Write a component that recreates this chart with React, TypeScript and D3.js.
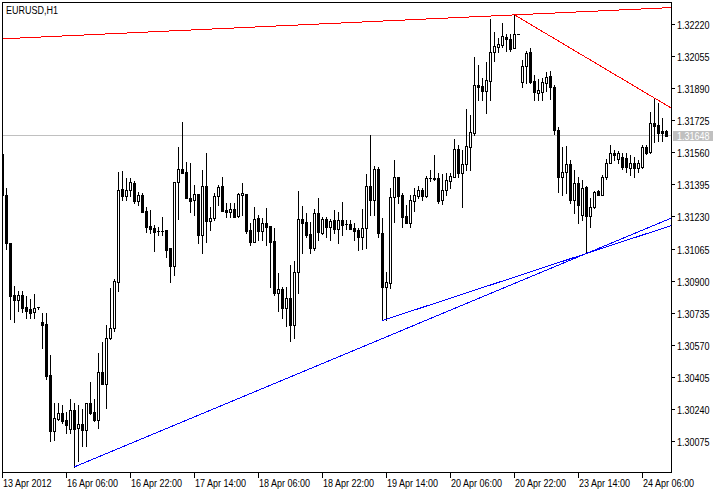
import React from 'react';
import * as d3 from 'd3';

const symbolLabel = 'EURUSD,H1';

const opens = [
  1.31555, 1.31344, 1.31097, 1.30829, 1.30808, 1.30829, 1.30767, 1.30757, 1.30746, 1.30767,
  1.30690, 1.30684, 1.30422, 1.30133, 1.30195, 1.30226, 1.30190, 1.30143, 1.30241, 1.30149,
  1.30169, 1.30138, 1.30277, 1.30231, 1.30190, 1.30437, 1.30375, 1.30612, 1.30659, 1.30896,
  1.31375, 1.31339, 1.31370, 1.31406, 1.31313, 1.31344, 1.31262, 1.31184, 1.31174, 1.31158,
  1.31158, 1.31164, 1.31071, 1.30978, 1.31411, 1.31478, 1.31462, 1.31329, 1.31318, 1.31349,
  1.31138, 1.31390, 1.31210, 1.31225, 1.31339, 1.31390, 1.31267, 1.31256, 1.31272, 1.31236,
  1.31344, 1.31349, 1.31164, 1.31102, 1.31225, 1.31158, 1.31200, 1.31184, 1.31107, 1.30844,
  1.30860, 1.30762, 1.30818, 1.30679, 1.30947, 1.31220, 1.31205, 1.31143, 1.31071, 1.31251,
  1.31148, 1.31220, 1.31179, 1.31215, 1.31169, 1.31215, 1.31195, 1.31195, 1.31174, 1.31164,
  1.31128, 1.31174, 1.31390, 1.31318, 1.31478, 1.31148, 1.30870, 1.30891, 1.31334, 1.31437,
  1.31344, 1.31236, 1.31200, 1.31313, 1.31339, 1.31370, 1.31339, 1.31432, 1.31432, 1.31432,
  1.31318, 1.31370, 1.31416, 1.31437, 1.31581, 1.31457, 1.31504, 1.31591, 1.31663, 1.31911,
  1.31906, 1.31880, 1.31931, 1.32081, 1.32107, 1.32117, 1.32158, 1.32148, 1.32101, 1.32174,
  1.31926, 1.32009, 1.32081, 1.31931, 1.31870, 1.31875, 1.31921, 1.31957, 1.31900, 1.31679,
  1.31437, 1.31462, 1.31504, 1.31318, 1.31406, 1.31241, 1.31385, 1.31236, 1.31282, 1.31365,
  1.31344, 1.31437, 1.31509, 1.31560, 1.31529, 1.31540, 1.31535, 1.31483, 1.31509, 1.31483,
  1.31488, 1.31591, 1.31566, 1.31715, 1.31705, 1.31674, 1.31674,
];

const highs = [
  1.31555, 1.31380, 1.31097, 1.30880, 1.30854, 1.30854, 1.30824, 1.30813, 1.30834, 1.30767,
  1.30736, 1.30741, 1.30525, 1.30277, 1.30277, 1.30267, 1.30231, 1.30298, 1.30277, 1.30267,
  1.30246, 1.30277, 1.30386, 1.30298, 1.30535, 1.30587, 1.30679, 1.30865, 1.30916, 1.31462,
  1.31468, 1.31432, 1.31432, 1.31416, 1.31359, 1.31354, 1.31282, 1.31267, 1.31189, 1.31179,
  1.31231, 1.31164, 1.31071, 1.31411, 1.31591, 1.31720, 1.31514, 1.31509, 1.31396, 1.31349,
  1.31473, 1.31560, 1.31282, 1.31354, 1.31396, 1.31437, 1.31303, 1.31303, 1.31303, 1.31354,
  1.31406, 1.31349, 1.31200, 1.31282, 1.31241, 1.31225, 1.31277, 1.31184, 1.31174, 1.30942,
  1.30870, 1.30870, 1.30988, 1.31004, 1.31365, 1.31287, 1.31251, 1.31205, 1.31272, 1.31329,
  1.31231, 1.31231, 1.31220, 1.31267, 1.31256, 1.31308, 1.31215, 1.31215, 1.31200, 1.31174,
  1.31272, 1.31452, 1.31653, 1.31493, 1.31488, 1.31225, 1.30947, 1.31380, 1.31524, 1.31437,
  1.31354, 1.31292, 1.31344, 1.31380, 1.31390, 1.31380, 1.31442, 1.31473, 1.31550, 1.31457,
  1.31452, 1.31457, 1.31457, 1.31633, 1.31602, 1.31576, 1.31787, 1.31756, 1.32055, 1.32014,
  1.31947, 1.32029, 1.32251, 1.32184, 1.32153, 1.32230, 1.32174, 1.32174, 1.32272, 1.32174,
  1.32040, 1.32086, 1.32101, 1.31962, 1.31942, 1.31947, 1.31978, 1.31983, 1.31911, 1.31694,
  1.31591, 1.31596, 1.31524, 1.31473, 1.31437, 1.31421, 1.31390, 1.31329, 1.31365, 1.31370,
  1.31447, 1.31529, 1.31602, 1.31576, 1.31571, 1.31560, 1.31560, 1.31550, 1.31540, 1.31524,
  1.31602, 1.31602, 1.31772, 1.31844, 1.31818, 1.31741, 1.31679,
];

const lows = [
  1.31339, 1.31066, 1.30710, 1.30690, 1.30751, 1.30746, 1.30715, 1.30715, 1.30715, 1.30757,
  1.30561, 1.30401, 1.30082, 1.30087, 1.30190, 1.30174, 1.30123, 1.30123, 1.29947, 1.29978,
  1.30056, 1.30056, 1.30221, 1.30185, 1.30149, 1.30375, 1.30252, 1.30607, 1.30648, 1.30854,
  1.31318, 1.31318, 1.31339, 1.31303, 1.31292, 1.31256, 1.31153, 1.31148, 1.31055, 1.31138,
  1.31138, 1.31025, 1.30896, 1.30932, 1.31220, 1.31457, 1.31329, 1.31256, 1.31241, 1.31097,
  1.31045, 1.31102, 1.31164, 1.31215, 1.31292, 1.31262, 1.31231, 1.31231, 1.31231, 1.31231,
  1.31241, 1.31148, 1.31086, 1.31102, 1.31112, 1.31112, 1.31086, 1.30870, 1.30829, 1.30751,
  1.30715, 1.30674, 1.30597, 1.30612, 1.30839, 1.31045, 1.31128, 1.31045, 1.31061, 1.31112,
  1.31143, 1.31128, 1.31112, 1.31148, 1.31097, 1.31138, 1.31169, 1.31169, 1.31112, 1.31061,
  1.31066, 1.31071, 1.31241, 1.31241, 1.31128, 1.30700, 1.30705, 1.30865, 1.31205, 1.31303,
  1.31179, 1.31200, 1.31179, 1.31262, 1.31329, 1.31318, 1.31334, 1.31416, 1.31421, 1.31303,
  1.31298, 1.31344, 1.31380, 1.31437, 1.31437, 1.31282, 1.31473, 1.31473, 1.31653, 1.31834,
  1.31834, 1.31767, 1.31834, 1.32034, 1.32081, 1.32107, 1.32086, 1.32086, 1.32101, 1.32174,
  1.31900, 1.31921, 1.31921, 1.31834, 1.31834, 1.31834, 1.31880, 1.31839, 1.31658, 1.31359,
  1.31344, 1.31354, 1.31303, 1.31251, 1.31200, 1.31215, 1.31045, 1.31179, 1.31277, 1.31344,
  1.31344, 1.31426, 1.31509, 1.31524, 1.31509, 1.31478, 1.31462, 1.31447, 1.31437, 1.31462,
  1.31483, 1.31555, 1.31560, 1.31617, 1.31622, 1.31622, 1.31648,
];

const closes = [
  1.31344, 1.31097, 1.30824, 1.30808, 1.30829, 1.30762, 1.30751, 1.30741, 1.30762, 1.30767,
  1.30679, 1.30416, 1.30133, 1.30200, 1.30226, 1.30185, 1.30164, 1.30241, 1.30143, 1.30169,
  1.30138, 1.30277, 1.30226, 1.30190, 1.30437, 1.30375, 1.30612, 1.30659, 1.30901, 1.31370,
  1.31339, 1.31370, 1.31411, 1.31313, 1.31344, 1.31256, 1.31179, 1.31169, 1.31153, 1.31158,
  1.31158, 1.31061, 1.30978, 1.31411, 1.31478, 1.31457, 1.31329, 1.31313, 1.31349, 1.31138,
  1.31390, 1.31210, 1.31225, 1.31339, 1.31385, 1.31262, 1.31256, 1.31272, 1.31231, 1.31349,
  1.31354, 1.31158, 1.31102, 1.31220, 1.31158, 1.31200, 1.31179, 1.31102, 1.30844, 1.30860,
  1.30762, 1.30818, 1.30679, 1.30947, 1.31220, 1.31200, 1.31138, 1.31071, 1.31251, 1.31153,
  1.31220, 1.31179, 1.31210, 1.31169, 1.31215, 1.31189, 1.31195, 1.31169, 1.31158, 1.31128,
  1.31174, 1.31390, 1.31318, 1.31478, 1.31148, 1.30870, 1.30896, 1.31334, 1.31437, 1.31339,
  1.31231, 1.31200, 1.31318, 1.31344, 1.31370, 1.31339, 1.31432, 1.31432, 1.31426, 1.31313,
  1.31370, 1.31421, 1.31442, 1.31581, 1.31457, 1.31504, 1.31596, 1.31669, 1.31911, 1.31900,
  1.31880, 1.31937, 1.32081, 1.32112, 1.32122, 1.32163, 1.32148, 1.32096, 1.32174, 1.32174,
  1.32009, 1.32076, 1.31926, 1.31875, 1.31885, 1.31926, 1.31952, 1.31900, 1.31679, 1.31437,
  1.31462, 1.31504, 1.31318, 1.31406, 1.31292, 1.31380, 1.31236, 1.31282, 1.31359, 1.31344,
  1.31437, 1.31509, 1.31560, 1.31550, 1.31560, 1.31488, 1.31488, 1.31509, 1.31483, 1.31509,
  1.31591, 1.31560, 1.31715, 1.31700, 1.31663, 1.31663, 1.31648,
];

const priceTicks = [
  1.3222, 1.32055, 1.3189, 1.31725, 1.3156, 1.31395, 1.3123,
  1.31065, 1.309, 1.30735, 1.3057, 1.30405, 1.3024, 1.30075,
];

const timeTickBars = [0, 16, 32, 48, 64, 80, 96, 112, 128, 144, 160];
const timeTickLabels = [
  '13 Apr 2012', '16 Apr 06:00', '16 Apr 22:00', '17 Apr 14:00', '18 Apr 06:00',
  '18 Apr 22:00', '19 Apr 14:00', '20 Apr 06:00', '20 Apr 22:00', '23 Apr 14:00', '24 Apr 06:00',
];

const currentPrice = 1.31648;

// trend lines: [barIndex, price] anchors (rays extended to the right)
const resistanceLong: [number, number][] = [[0, 1.32149], [128, 1.32272]];
const resistanceShort: [number, number][] = [[128, 1.32272], [163, 1.31844]];
const supportLong: [number, number][] = [[18, 1.29947], [146, 1.31045]];
const supportShort: [number, number][] = [[95, 1.307], [146, 1.31045]];

const W = 713;
const H = 489;
const LEFT = 2;
const TOP = 2;
const RIGHT = 671;
const BOTTOM = 472;
const FONT = "'Liberation Sans', Arial, sans-serif";
const SX = 0.82;

function Label(props: { x: number; y: number; fill?: string; children: React.ReactNode }) {
  return (
    <text transform={`translate(${props.x},${props.y}) scale(${SX},1)`} fontSize={11}
      fill={props.fill || '#000'} fontFamily={FONT}>
      {props.children}
    </text>
  );
}

export default function App() {
  const lastBarSlot = (RIGHT - LEFT) / 4;
  const x = d3.scaleLinear().domain([0, lastBarSlot]).range([LEFT, RIGHT]);
  const y = d3.scaleLinear().domain([1.30075, 1.3222]).range([442, 25]);
  const ry = (p: number) => Math.round(y(p));

  const candles = opens.map((o, i) => {
    const h = highs[i];
    const l = lows[i];
    const c = closes[i];
    const cx = Math.round(x(i));
    const yo = ry(o);
    const yc = ry(c);
    const top = Math.min(yo, yc);
    const bot = Math.max(yo, yc);
    const yh = Math.min(ry(h), top);
    const yl = Math.max(ry(l), bot);
    const parts: React.ReactNode[] = [];
    parts.push(<rect key="w" x={cx} y={yh} width={1} height={yl - yh + 1} fill="#000" />);
    if (bot === top) {
      parts.push(<rect key="b" x={cx - 1} y={top} width={3} height={1} fill="#000" />);
    } else if (c > o) {
      parts.push(
        <rect key="b" x={cx - 0.5} y={top + 0.5} width={2} height={bot - top} fill="#fff" stroke="#000" strokeWidth={1} />
      );
    } else {
      parts.push(<rect key="b" x={cx - 1} y={top} width={3} height={bot - top + 1} fill="#000" />);
    }
    return <g key={i}>{parts}</g>;
  });

  const ray = (pts: [number, number][], color: string, key: string) => {
    const [[b0, p0], [b1, p1]] = pts;
    const slope = (p1 - p0) / (b1 - b0);
    const bEnd = lastBarSlot;
    const pEnd = p1 + slope * (bEnd - b1);
    const line = d3.line<[number, number]>()
      .x((d) => x(d[0]) + 0.5)
      .y((d) => y(d[1]));
    return (
      <path key={key} d={line([[b0, p0], [bEnd, pEnd]]) || ''} stroke={color} strokeWidth={1}
        fill="none" shapeRendering="crispEdges" />
    );
  };

  const curRow = ry(currentPrice) - 1;

  return (
    <svg width={W} height={H} style={{ position: 'absolute', left: 0, top: 0, background: '#fff' }}>
      <rect x={0} y={0} width={W} height={H} fill="#fff" />
      <defs>
        <clipPath id="plot">
          <rect x={LEFT} y={TOP} width={RIGHT - LEFT} height={BOTTOM - TOP} />
        </clipPath>
      </defs>
      <Label x={6} y={14}>{symbolLabel}</Label>
      <g clipPath="url(#plot)">
        <rect x={LEFT} y={curRow} width={RIGHT - LEFT} height={1} fill="#c0c0c0" />
        {candles}
        {ray(resistanceLong, '#ff0000', 'r1')}
        {ray(resistanceShort, '#ff0000', 'r2')}
        {ray(supportLong, '#0000ff', 'b1')}
        {ray(supportShort, '#0000ff', 'b2')}
      </g>
      {/* frame */}
      <rect x={LEFT} y={TOP} width={RIGHT - LEFT} height={1} fill="#000" />
      <rect x={LEFT} y={TOP} width={1} height={BOTTOM - TOP + 6} fill="#000" />
      <rect x={RIGHT} y={TOP} width={1} height={BOTTOM - TOP + 1} fill="#000" />
      <rect x={LEFT} y={BOTTOM} width={RIGHT - LEFT + 1} height={1} fill="#000" />
      {/* price axis */}
      {priceTicks.map((p) => {
        const row = ry(p) - 1;
        return (
          <g key={p}>
            <rect x={RIGHT + 1} y={row} width={3} height={1} fill="#000" />
            <Label x={677} y={row + 5}>{p.toFixed(5)}</Label>
          </g>
        );
      })}
      <rect x={673} y={curRow - 4} width={40} height={10} fill="#c0c0c0" />
      <Label x={677} y={curRow + 5} fill="#fff">{currentPrice.toFixed(5)}</Label>
      {/* time axis */}
      {timeTickBars.map((b, i) => {
        const tx = Math.round(x(b));
        return (
          <g key={b}>
            <rect x={tx} y={BOTTOM} width={1} height={6} fill="#000" />
            <Label x={tx + 1} y={487}>{timeTickLabels[i]}</Label>
          </g>
        );
      })}
    </svg>
  );
}
